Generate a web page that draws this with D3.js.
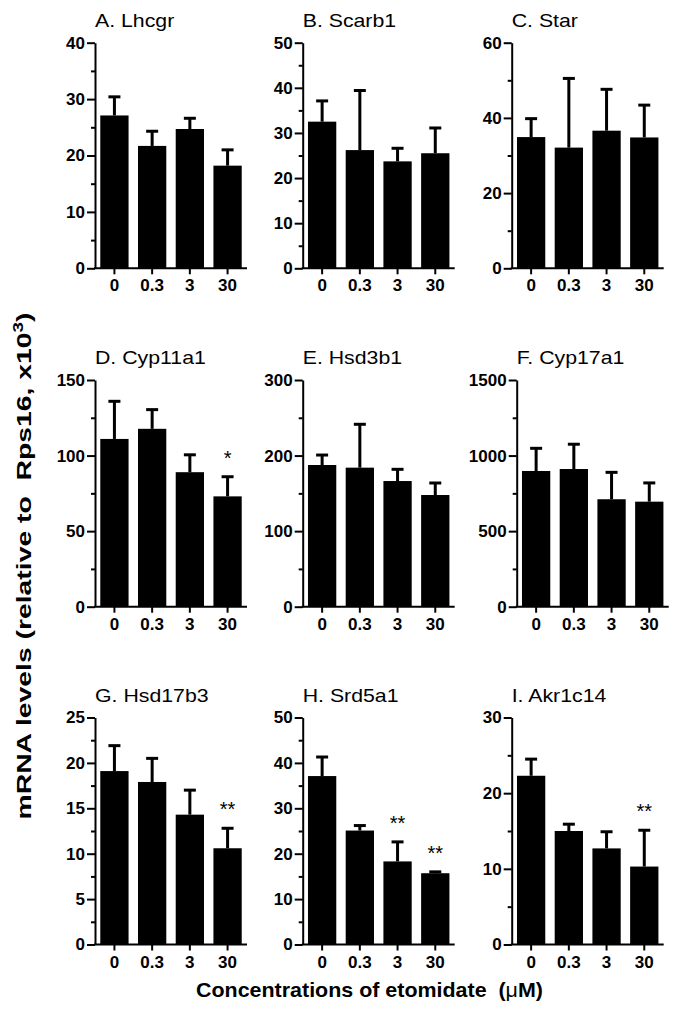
<!DOCTYPE html>
<html>
<head>
<meta charset="utf-8">
<script src="https://cdn.jsdelivr.net/npm/d3@7"></script>
<style>
  html, body { margin: 0; padding: 0; background: #fff; }
  svg { display: block; }
  text { font-family: "Liberation Sans", Arial, Helvetica, sans-serif; white-space: pre; }
</style>
</head>
<body>
<svg id="chart" width="684" height="1010"></svg>
<script>
// ---------------- data ----------------
const concentrations = ["0", "0.3", "3", "30"];
const panelTitles = ["A. Lhcgr", "B. Scarb1", "C. Star", "D. Cyp11a1", "E. Hsd3b1", "F. Cyp17a1", "G. Hsd17b3", "H. Srd5a1", "I. Akr1c14"];
const yMaxima = [40, 50, 60, 150, 300, 1500, 25, 50, 30];
const yMajorSteps = [10, 10, 20, 50, 100, 500, 5, 10, 10];

const lhcgrMean   = [27.1, 21.7, 24.7, 18.2];
const lhcgrSem    = [3.3, 2.6, 1.9, 2.8];
const scarb1Mean  = [32.5, 26.2, 23.7, 25.5];
const scarb1Sem   = [4.6, 13.2, 2.9, 5.6];
const starMean    = [34.9, 32.1, 36.6, 34.8];
const starSem     = [4.9, 18.4, 11.0, 8.6];
const cyp11a1Mean = [111, 117.7, 89, 73];
const cyp11a1Sem  = [24.9, 12.7, 11.5, 13];
const hsd3b1Mean  = [187.5, 184, 166.3, 147.8];
const hsd3b1Sem   = [13.2, 57.4, 15.5, 15.9];
const cyp17a1Mean = [898, 911, 711, 695];
const cyp17a1Sem  = [150, 164, 178, 124];
const hsd17b3Mean = [19.1, 17.9, 14.3, 10.6];
const hsd17b3Sem  = [2.8, 2.6, 2.7, 2.2];
const srd5a1Mean  = [37.1, 25.1, 18.3, 15.7];
const srd5a1Sem   = [4.2, 1.1, 4.3, 0.3];
const akr1c14Mean = [22.3, 15.0, 12.7, 10.3];
const akr1c14Sem  = [2.2, 0.9, 2.2, 4.8];

const cyp11a1Sig = ["", "", "", "*"];
const hsd17b3Sig = ["", "", "", "**"];
const srd5a1Sig  = ["", "", "**", "**"];
const akr1c14Sig = ["", "", "", "**"];
const noSig      = ["", "", "", ""];

const yAxisTitle = ["mRNA levels (relative to  Rps16, x10", "3", ")"];
const xAxisTitle = ["Concentrations of etomidate  (", "\u03bc", "M)"];

// ---------------- layout ----------------
const axisLeftX = [95, 302.7, 511.7, 95, 302.7, 516.7, 95, 302.7, 511.7];
const rowTop = [42.7, 380, 717.5];
const rowBottom = [268.3, 606.7, 944.5];
const plotWidth = 152;

const panels = [
  { mean: lhcgrMean,   sem: lhcgrSem,   sig: noSig },
  { mean: scarb1Mean,  sem: scarb1Sem,  sig: noSig },
  { mean: starMean,    sem: starSem,    sig: noSig },
  { mean: cyp11a1Mean, sem: cyp11a1Sem, sig: cyp11a1Sig },
  { mean: hsd3b1Mean,  sem: hsd3b1Sem,  sig: noSig },
  { mean: cyp17a1Mean, sem: cyp17a1Sem, sig: noSig },
  { mean: hsd17b3Mean, sem: hsd17b3Sem, sig: hsd17b3Sig },
  { mean: srd5a1Mean,  sem: srd5a1Sem,  sig: srd5a1Sig },
  { mean: akr1c14Mean, sem: akr1c14Sem, sig: akr1c14Sig }
];

const svg = d3.select("#chart");
const titleStretch = 1.12;

panels.forEach((p, i) => {
  const x0 = axisLeftX[i];
  const top = rowTop[Math.floor(i / 3)];
  const bottom = rowBottom[Math.floor(i / 3)];
  const yMax = yMaxima[i], step = yMajorSteps[i];

  const x = d3.scaleBand().domain(concentrations)
    .range([x0, x0 + plotWidth]).paddingInner(0.25).paddingOuter(0.14);
  const y = d3.scaleLinear().domain([0, yMax]).range([bottom, top]);

  const g = svg.append("g");
  const rows = concentrations.map((c, j) => ({ c, m: p.mean[j], e: p.sem[j], s: p.sig[j] }));

  // error bars (upper only)
  const eb = g.append("g").attr("stroke", "#000").attr("stroke-width", 3);
  eb.selectAll("line.v").data(rows).join("line").attr("class", "v")
    .attr("x1", d => x(d.c) + x.bandwidth() / 2).attr("x2", d => x(d.c) + x.bandwidth() / 2)
    .attr("y1", d => y(d.m)).attr("y2", d => y(d.m + d.e));
  eb.selectAll("line.cap").data(rows).join("line").attr("class", "cap")
    .attr("x1", d => x(d.c) + x.bandwidth() / 2 - 6).attr("x2", d => x(d.c) + x.bandwidth() / 2 + 6)
    .attr("y1", d => y(d.m + d.e)).attr("y2", d => y(d.m + d.e));

  // bars
  g.selectAll("rect.bar").data(rows).join("rect").attr("class", "bar")
    .attr("x", d => x(d.c)).attr("width", x.bandwidth())
    .attr("y", d => y(d.m)).attr("height", d => y(0) - y(d.m))
    .attr("fill", "#000");

  // significance marks
  g.selectAll("text.sig").data(rows.filter(d => d.s)).join("text").attr("class", "sig")
    .attr("x", d => x(d.c) + x.bandwidth() / 2)
    .attr("y", d => y(d.m + d.e) - 12)
    .attr("text-anchor", "middle").attr("font-size", 20)
    .text(d => d.s);

  // y axis major
  const yAx = g.append("g").attr("transform", `translate(${x0},0)`)
    .call(d3.axisLeft(y).tickValues(d3.range(0, yMax + 1e-9, step))
      .tickSize(8).tickPadding(2).tickSizeOuter(0).tickFormat(d3.format("d")));
  // y axis minor
  const yMin = g.append("g").attr("transform", `translate(${x0},0)`)
    .call(d3.axisLeft(y).tickValues(d3.range(step / 2, yMax, step))
      .tickSize(4).tickSizeOuter(0).tickFormat(""));
  yMin.select(".domain").remove();

  // x axis
  const xAx = g.append("g").attr("transform", `translate(0,${bottom})`)
    .call(d3.axisBottom(x).tickSize(6).tickPadding(5).tickSizeOuter(0));
  xAx.select(".domain").attr("d", `M${x0 - 1},0H${x0 + plotWidth}`);

  [yAx, yMin, xAx].forEach(a => {
    a.attr("font-family", null).attr("font-size", null);
    a.selectAll("path, line").attr("stroke", "#000").attr("stroke-width", 2);
    a.selectAll("text").attr("fill", "#000").attr("font-size", 17).attr("font-weight", "bold");
  });

  // panel title
  const t = g.append("text").attr("x", x0).attr("y", top - 16)
    .attr("font-size", 19).attr("fill", "#000").text(panelTitles[i]);
  const w = t.node().getComputedTextLength();
  t.attr("textLength", w * titleStretch).attr("lengthAdjust", "spacingAndGlyphs");
});

// y-axis title
const yt = svg.append("text")
  .attr("transform", "translate(31,566) rotate(-90)")
  .attr("text-anchor", "middle").attr("font-size", 21).attr("font-weight", "bold").attr("fill", "#000");
yt.append("tspan").text(yAxisTitle[0]);
yt.append("tspan").attr("font-size", 14).attr("dy", -8).text(yAxisTitle[1]);
yt.append("tspan").attr("dy", 8).text(yAxisTitle[2]);
yt.attr("textLength", 507).attr("lengthAdjust", "spacingAndGlyphs");

// x-axis title
const xt = svg.append("text")
  .attr("x", 369.5).attr("y", 997)
  .attr("text-anchor", "middle").attr("font-size", 21).attr("font-weight", "bold").attr("fill", "#000");
xt.append("tspan").text(xAxisTitle[0]);
xt.append("tspan").attr("font-weight", "normal").text(xAxisTitle[1]);
xt.append("tspan").text(xAxisTitle[2]);
xt.attr("textLength", 347).attr("lengthAdjust", "spacingAndGlyphs");
</script>
</body>
</html>
